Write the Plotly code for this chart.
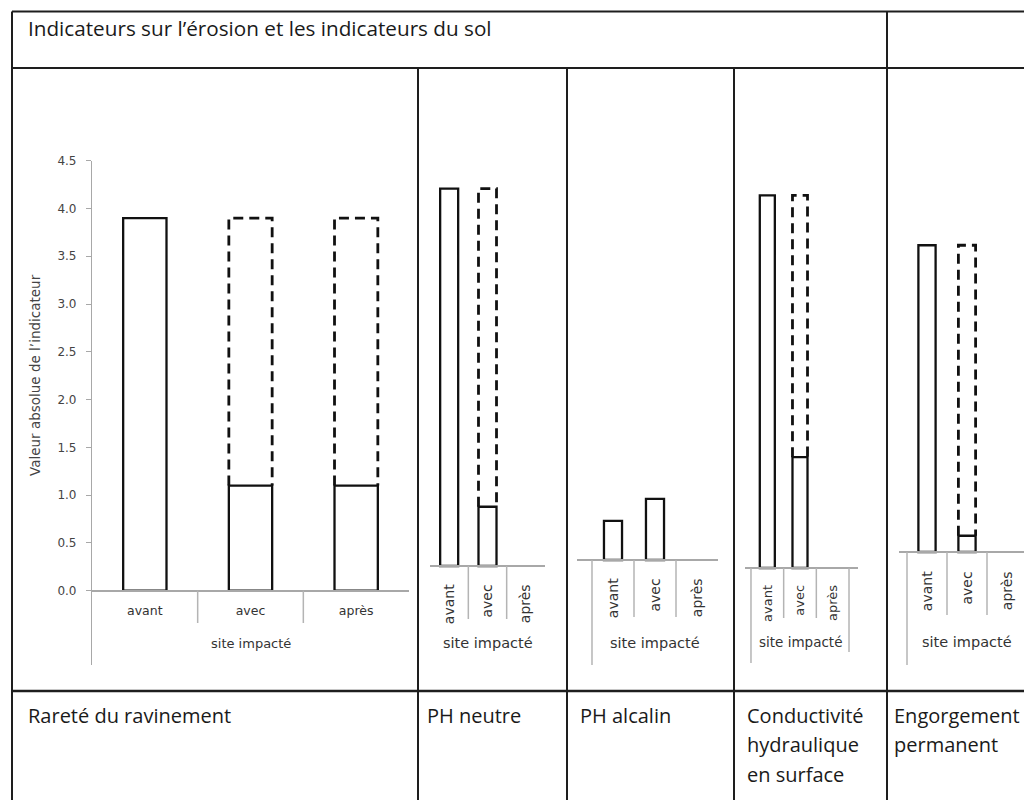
import plotly.graph_objects as go

# ---------------- data ----------------
categories = ["avant", "avec", "après"]
y_tick_values = [0.0, 0.5, 1.0, 1.5, 2.0, 2.5, 3.0, 3.5, 4.0, 4.5]

# Rareté du ravinement
rar_values = [3.9, 1.1, 1.1]
rar_reference = [None, 3.9, 3.9]
# PH neutre
phn_values = [3.95, 0.62, None]
phn_reference = [None, 3.95, None]
# PH alcalin
pha_values = [0.41, 0.64, None]
pha_reference = [None, None, None]
# Conductivité hydraulique en surface
cond_values = [3.9, 1.16, None]
cond_reference = [None, 3.9, None]
# Engorgement permanent
eng_values = [3.21, 0.17, None]
eng_reference = [None, 3.21, None]

header_text = "Indicateurs sur l\u2019érosion et les indicateurs du sol"
y_title = "Valeur absolue de l\u2019indicateur"
axis_title = "site impacté"
row_labels = [
    ("Rareté du ravinement", 27),
    ("PH neutre", 426),
    ("PH alcalin", 579),
    ("Conductivité<br>hydraulique<br>en surface", 746),
    ("Engorgement<br>permanent", 893),
]

# ---------------- geometry (screen pixels -> paper) ----------------
OFF = 8            # page body margin
FW, FH = 1024, 792  # figure size so that it fills the 1032x800 window


def PX(px):
    return (px - OFF) / FW


def PY(py):
    return 1 - (py - OFF) / FH


TOP_PX = 160.7
BOT_PX = 665.0
PPU = (590.7 - TOP_PX) / 4.5  # pixels per unit (same scale for all panels)

CHART_FONT = "DejaVu Sans"
TABLE_FONT = "Open Sans"

panels = [
    dict(vals=rar_values, ref=rar_reference, px=(92, 409), base=590.7, xr=(-0.5, 2.5), bw=0.41,
         angle=0, tsize=12.5, tlen=9, dividers=[(0.5, 623), (1.5, 623)], title_y=643, title_size=13),
    dict(vals=phn_values, ref=phn_reference, px=(430, 545), base=566, xr=(-0.5, 2.5), bw=0.47,
         angle=-90, tsize=14, tlen=12, dividers=[(0.5, 619), (1.5, 619)], title_y=643, title_size=14.5),
    dict(vals=pha_values, ref=pha_reference, px=(577, 718), base=560, xr=(-0.857, 2.5), bw=0.43,
         angle=-90, tsize=14, tlen=12, dividers=[(-0.5, 665), (0.5, 617), (1.5, 617)], title_y=643, title_size=14.5),
    dict(vals=cond_values, ref=cond_reference, px=(745, 858), base=568, xr=(-0.683, 2.775), bw=0.46,
         angle=-90, tsize=13, tlen=11, dividers=[(-0.5, 663), (0.5, 618), (1.5, 618), (2.5, 652)], title_y=642, title_size=13.5),
    dict(vals=eng_values, ref=eng_reference, px=(899, 1032), base=552, xr=(-0.7, 2.625), bw=0.43,
         angle=-90, tsize=14, tlen=13, dividers=[(-0.5, 665), (0.5, 615), (1.5, 615), (2.5, 655)], title_y=642, title_size=14.5),
]

fig = go.Figure()
shapes = []
annotations = []
layout_axes = {}

for k, p in enumerate(panels, start=1):
    xname = "x" if k == 1 else f"x{k}"
    yname = "y" if k == 1 else f"y{k}"
    xkey = "xaxis" if k == 1 else f"xaxis{k}"
    ykey = "yaxis" if k == 1 else f"yaxis{k}"
    idx = list(range(len(categories)))

    fig.add_trace(go.Bar(
        x=idx, y=p["vals"], width=p["bw"], xaxis=xname, yaxis=yname,
        marker=dict(color="white", line=dict(color="#111111", width=2.3)),
        showlegend=False, hoverinfo="skip",
    ))

    xs, ys = [], []
    for i, r in enumerate(p["ref"]):
        if r is None:
            continue
        s = p["vals"][i] if p["vals"][i] is not None else 0
        half = p["bw"] / 2
        xs += [i - half, i - half, i + half, i + half, None]
        ys += [s, r, r, s, None]
    if xs:
        fig.add_trace(go.Scatter(
            x=xs, y=ys, mode="lines", xaxis=xname, yaxis=yname,
            line=dict(color="#111111", width=2.8, dash="10px,6px"),
            showlegend=False, hoverinfo="skip",
        ))

    base = p["base"]
    yr = [-(BOT_PX - base) / PPU, (base - TOP_PX) / PPU]

    layout_axes[xkey] = dict(
        domain=[PX(p["px"][0]), min(1.0, PX(p["px"][1]))], range=list(p["xr"]),
        anchor="free", position=PY(base),
        showline=True, linecolor="#a8a8a8", linewidth=1.5,
        tickmode="array", tickvals=idx, ticktext=categories,
        ticks="outside", ticklen=p["tlen"], tickcolor="rgba(0,0,0,0)",
        tickangle=p["angle"], tickfont=dict(family=CHART_FONT, size=p["tsize"], color="#333333"),
        showgrid=False, zeroline=False, fixedrange=True, automargin=False,
    )
    if k == 1:
        layout_axes[ykey] = dict(
            domain=[PY(BOT_PX), PY(TOP_PX)], range=yr, anchor=xname,
            showline=True, linecolor="#a8a8a8", linewidth=1.2,
            tickmode="array", tickvals=y_tick_values,
            ticktext=[f"{v:.1f}" for v in y_tick_values],
            ticks="outside", ticklen=5, tickcolor="#a8a8a8", ticklabelstandoff=7,
            tickfont=dict(family=CHART_FONT, size=12, color="#444444"),
            showgrid=False, zeroline=False, fixedrange=True, automargin=False,
        )
    else:
        layout_axes[ykey] = dict(
            domain=[PY(BOT_PX), PY(TOP_PX)], range=yr, anchor=xname,
            visible=False, showgrid=False, zeroline=False, fixedrange=True, automargin=False,
        )

    for bx, end in p["dividers"]:
        shapes.append(dict(type="line", xref=xname, yref="paper", x0=bx, x1=bx,
                           y0=PY(base), y1=PY(end),
                           line=dict(color="#b4b4b4", width=1.5)))

    annotations.append(dict(text=axis_title, xref=xname, yref="paper", x=1, y=PY(p["title_y"]),
                            showarrow=False, xanchor="center", yanchor="middle",
                            font=dict(family=CHART_FONT, size=p["title_size"], color="#333333")))

# y axis title of first chart
annotations.append(dict(text=y_title, xref="paper", yref="paper", x=PX(35), y=PY(375),
                        textangle=-90, showarrow=False, xanchor="center", yanchor="middle",
                        font=dict(family=CHART_FONT, size=13.5, color="#444444")))

# ---------------- table frame ----------------


def hline(py, x0=12, x1=1040, width=2):
    shapes.append(dict(type="line", xref="paper", yref="paper", x0=PX(x0), x1=PX(x1),
                       y0=PY(py), y1=PY(py), line=dict(color="#1e1e1e", width=width)))


def vline(px, y0, y1=810, width=2):
    shapes.append(dict(type="line", xref="paper", yref="paper", x0=PX(px), x1=PX(px),
                       y0=PY(y0), y1=PY(y1), line=dict(color="#1e1e1e", width=width)))


hline(11.5)
hline(68)
hline(691, width=2.5)
vline(12, 11.5)
vline(887, 11.5)
for cx in (418, 567, 734):
    vline(cx, 68)

# header
annotations.append(dict(text=header_text, xref="paper", yref="paper", x=PX(26), y=PY(28),
                        showarrow=False, xanchor="left", yanchor="middle",
                        font=dict(family=TABLE_FONT, size=20.7, color="#1a1a1a")))

# bottom row labels (one annotation per line for exact spacing)
for text, lx in row_labels:
    for j, line in enumerate(text.split("<br>")):
        annotations.append(dict(text=line, xref="paper", yref="paper", x=PX(lx - 1),
                                y=PY(715 + 29.5 * j),
                                showarrow=False, xanchor="left", yanchor="middle",
                                font=dict(family=TABLE_FONT, size=20, color="#1a1a1a")))

fig.update_layout(
    width=FW, height=FH,
    margin=dict(l=0, r=0, t=0, b=0, pad=0),
    paper_bgcolor="white", plot_bgcolor="rgba(0,0,0,0)",
    showlegend=False, barmode="overlay",
    shapes=shapes, annotations=annotations,
    **layout_axes,
)

fig.write_html("out.html", config={"displayModeBar": False})
